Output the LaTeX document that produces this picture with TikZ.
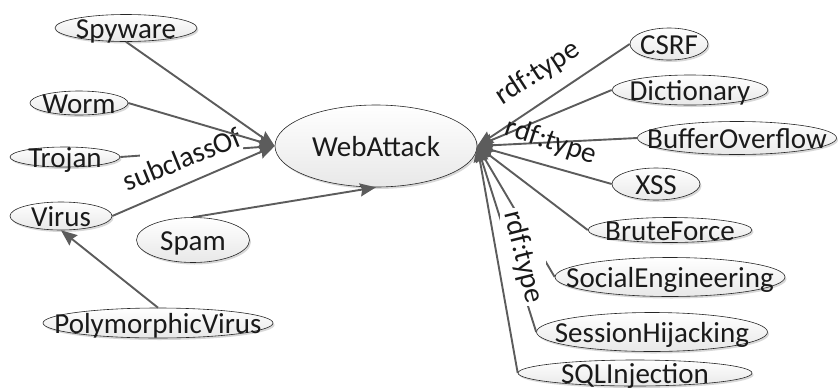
\documentclass[tikz,border=0pt]{standalone}
\usepackage{fontspec}
\setmainfont{Carlito}
\usetikzlibrary{shapes.geometric,arrows.meta,shadows}
\definecolor{edgegray}{HTML}{5C5C5C}
\definecolor{txt}{HTML}{1A1A1A}
\begin{document}
\begin{tikzpicture}[x=1pt,y=1pt,
  ell/.style={ellipse, draw=black!85, line width=0.6pt, top color=white, bottom color=black!9, inner sep=0pt,
    drop shadow={shadow xshift=1.5pt,shadow yshift=-2pt,fill=black!30,opacity=0.5}},
  every label/.style={font=\fontsize{29}{29}\selectfont, text=txt, text height=25pt, text depth=5pt, inner sep=0pt},
  conn/.style={draw=edgegray, line width=1.9pt, -{Stealth[length=16pt,width=13pt,inset=2pt]}},
  lbl/.style={font=\fontsize{29}{29}\selectfont, text=txt, inner sep=0pt}
]
\useasboundingbox (0,0) rectangle (838,-389);

% nodes
\node[ell, minimum width=142pt, minimum height=27pt, label=center:Spyware] (spy) at (126,-28) {};
\node[ell, minimum width=98pt, minimum height=24pt, label=center:Worm] (worm) at (79,-103) {};
\node[ell, minimum width=110pt, minimum height=20pt, label=center:Trojan] (troj) at (65,-157) {};
\node[ell, minimum width=102pt, minimum height=28pt, label=center:Virus] (virus) at (61,-216) {};
\node[ell, minimum width=113pt, minimum height=45pt, label=center:Spam] (spam) at (193,-240) {};
\node[ell, minimum width=230pt, minimum height=30pt, label=center:PolymorphicVirus] (poly) at (158,-323) {};
\node[ell, minimum width=202pt, minimum height=82pt, label=center:WebAttack] (WA) at (376,-146) {};
\node[ell, minimum width=78pt, minimum height=32pt, label=center:CSRF] (csrf) at (669,-44) {};
\node[ell, minimum width=156pt, minimum height=30pt, label=center:Dictionary] (dict) at (690,-90) {};
\node[ell, minimum width=199pt, minimum height=33pt, label=center:BufferOverflow] (buf) at (737,-138) {};
\node[ell, minimum width=88pt, minimum height=32pt, label=center:XSS] (xss) at (656,-184) {};
\node[ell, minimum width=164pt, minimum height=25pt, label=center:BruteForce] (brute) at (670,-230) {};
\node[ell, minimum width=230pt, minimum height=39pt, label=center:SocialEngineering] (soc) at (670,-277) {};
\node[ell, minimum width=231pt, minimum height=39pt, label=center:SessionHijacking] (sh) at (652,-332) {};
\node[ell, minimum width=234pt, minimum height=26pt, label=center:SQLInjection] (sql) at (635,-373) {};

% edges hidden under label backgrounds
\draw[conn] (troj.east) -- (WA.west);
\draw[conn] (soc.west) -- (WA.east);
\draw[conn] (sh.west) -- (WA.east);
\fill[white] (140,-126) rectangle (243,-192);
\node[lbl] (lsub) at (182,-159) {\rotatebox{22}{subclassOf}};
\node[lbl, fill=white] (lsh) at (523,-257) {\rotatebox{-76}{rdf:type}};

% other edges
\draw[conn] (spy.south) -- (WA.west);
\draw[conn] (worm.east) -- (WA.west);
\draw[conn] (virus.east) -- (WA.west);
\draw[conn] (spam.north) -- (WA.south);
\draw[conn] (poly.north) -- (virus.south);
\draw[conn] (csrf.west) -- (WA.east);
\draw[conn] (dict.west) -- (WA.east);
\draw[conn] (buf.west) -- (WA.east);
\draw[conn] (xss.west) -- (WA.east);
\draw[conn] (brute.west) -- (WA.east);
\draw[conn] (sql.west) -- (WA.east);

% plain labels
\node[lbl] (lcsrf) at (538,-73) {\rotatebox{33}{rdf:type}};
\node[lbl] (lxss) at (551,-142) {\rotatebox{-18}{rdf:type}};
\end{tikzpicture}
\end{document}
